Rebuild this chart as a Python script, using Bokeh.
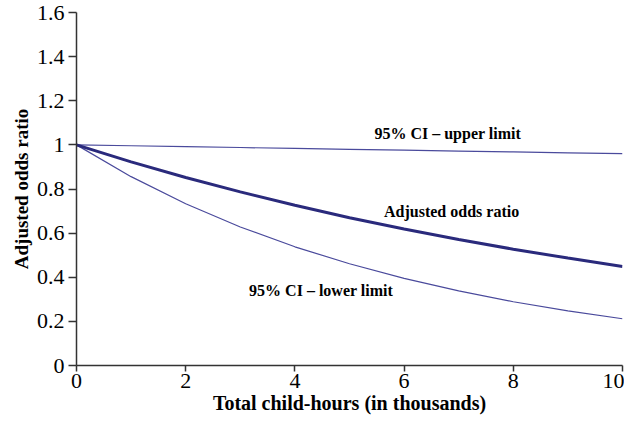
from bokeh.plotting import figure
from bokeh.models import FixedTicker, Range1d
from bokeh.core.properties import value
from bokeh.embed import file_html
from bokeh.resources import INLINE

hours = [0, 1, 2, 3, 4, 5, 6, 7, 8, 9, 10]
upper = [1.0, 0.996, 0.992, 0.988, 0.984, 0.980, 0.976, 0.972, 0.968, 0.964, 0.960]
adjusted = [1.0, 0.923, 0.852, 0.787, 0.726, 0.670, 0.619, 0.571, 0.527, 0.487, 0.449]
lower = [1.0, 0.856, 0.733, 0.628, 0.538, 0.461, 0.395, 0.338, 0.289, 0.248, 0.212]

x_ticks = [0, 2, 4, 6, 8, 10]
y_ticks = [0, 0.2, 0.4, 0.6, 0.8, 1.0, 1.2, 1.4, 1.6]
y_tick_labels = ["0", "0.2", "0.4", "0.6", "0.8", "1", "1.2", "1.4", "1.6"]

labels = ["95% CI \u2013 upper limit", "Adjusted odds ratio", "95% CI \u2013 lower limit"]
label_x = [6.8, 6.87, 4.48]
label_y = [1.053, 0.70, 0.342]

FONT = "Liberation Serif"

p = figure(width=624, height=416, output_backend="svg", toolbar_location=None,
           x_range=Range1d(0, 10), y_range=Range1d(0, 1.6),
           min_border_left=76, min_border_right=2, min_border_top=12, min_border_bottom=46)
p.outline_line_color = None
p.xgrid.grid_line_color = None
p.ygrid.grid_line_color = None
p.background_fill_color = "white"

p.line(hours, upper, line_color="#4a4a9c", line_width=1.2)
p.line(hours, lower, line_color="#4a4a9c", line_width=1.2)
p.line(hours, adjusted, line_color="#2a2a7c", line_width=3)

p.text(x=label_x, y=label_y, text=labels, text_font=value(FONT), text_font_style="bold",
       text_font_size="16px", text_align="center", text_baseline="middle", text_color="black")

for ax in (p.xaxis[0], p.yaxis[0]):
    ax.axis_line_color = "#333333"
    ax.axis_line_width = 1.5
    ax.major_tick_line_color = "#333333"
    ax.major_tick_line_width = 1.5
    ax.minor_tick_line_color = None
    ax.major_label_text_font = FONT
    ax.major_label_text_font_size = "22px"
    ax.major_label_text_color = "black"
    ax.axis_label_text_font = FONT
    ax.axis_label_text_font_style = "bold"
    ax.axis_label_text_color = "black"

p.xaxis.ticker = FixedTicker(ticks=x_ticks)
p.xaxis.major_tick_in = 0
p.xaxis.major_tick_out = 6
p.xaxis.major_label_standoff = 2
p.xaxis.axis_label = "Total child-hours (in thousands)"
p.xaxis.axis_label_text_font_size = "20px"
p.xaxis.axis_label_standoff = 1

p.yaxis.ticker = FixedTicker(ticks=y_ticks)
p.yaxis.major_label_overrides = {t: l for t, l in zip(y_ticks, y_tick_labels)}
p.yaxis.major_tick_in = 0
p.yaxis.major_tick_out = 8
p.yaxis.major_label_standoff = 4
p.yaxis.axis_label = "Adjusted odds ratio"
p.yaxis.axis_label_text_font_size = "19px"
p.yaxis.axis_label_standoff = 2

open("out.html", "w").write(file_html(p, INLINE))
